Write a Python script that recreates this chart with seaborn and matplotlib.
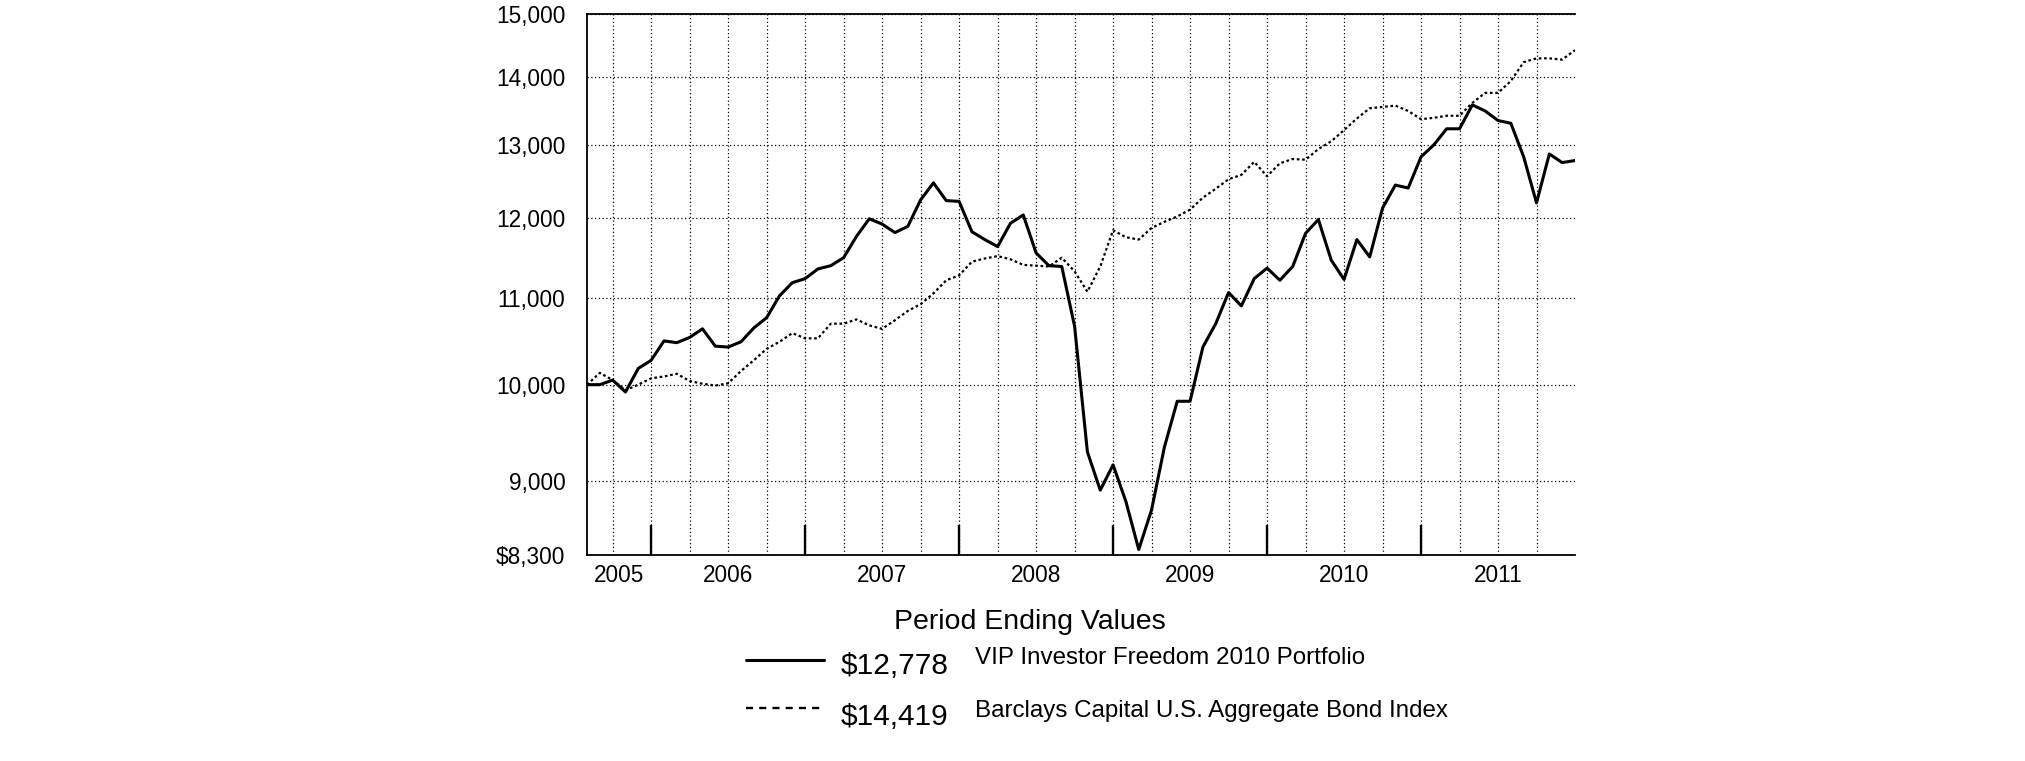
import pandas as pd
import seaborn as sns
import matplotlib.pyplot as plt
from matplotlib.lines import Line2D
from matplotlib.ticker import NullLocator

# Hypothetical $10,000 investment, month-end values (Jul 2005 .. Dec 2011)
vip_values = [10000, 10000, 10050, 9920, 10180, 10270,
              10490, 10470, 10530, 10630, 10430, 10420, 10480, 10640, 10760, 11020, 11180, 11230,
              11350, 11390, 11490, 11760, 11990, 11920, 11810, 11890, 12240, 12470, 12230, 12220,
              11820, 11720, 11630, 11930, 12040, 11550, 11390, 11380, 10660, 9290, 8910, 9160,
              8800, 8350, 8720, 9340, 9820, 9820, 10420, 10690, 11060, 10900, 11230, 11360,
              11210, 11380, 11800, 11980, 11460, 11220, 11720, 11500, 12130, 12440, 12400, 12830,
              13000, 13230, 13230, 13580, 13490, 13350, 13310, 12830, 12200, 12870, 12750, 12778]
bond_values = [10000, 10130, 10050, 9940, 10000, 10070,
               10090, 10120, 10040, 10010, 9990, 10015, 10150, 10270, 10400, 10480, 10580, 10520,
               10520, 10690, 10690, 10740, 10670, 10630, 10730, 10840, 10920, 11050, 11210, 11270,
               11440, 11480, 11510, 11470, 11400, 11390, 11380, 11490, 11320, 11070, 11380, 11840,
               11750, 11720, 11870, 11950, 12020, 12110, 12270, 12390, 12520, 12580, 12760, 12560,
               12740, 12800, 12790, 12940, 13050, 13210, 13380, 13530, 13550, 13570, 13490, 13370,
               13390, 13420, 13420, 13610, 13760, 13760, 13940, 14230, 14290, 14290, 14270, 14419]
month_index = list(range(len(vip_values)))

series_names = ["VIP Investor Freedom 2010 Portfolio",
                "Barclays Capital U.S. Aggregate Bond Index"]
years = ["2005", "2006", "2007", "2008", "2009", "2010", "2011"]
year_ends = [5, 17, 29, 41, 53, 65]          # month index of each December
y_ticks = [8300, 9000, 10000, 11000, 12000, 13000, 14000, 15000]

sns.set_style("white")
plt.rcParams['font.family'] = ['Liberation Sans', 'DejaVu Sans']
plt.rcParams['text.color'] = 'black'

W, H = 2025, 761
fig = plt.figure(figsize=(W / 100, H / 100), dpi=100)
ax = fig.add_axes([587 / W, (H - 555) / H, (1575 - 587) / W, (555 - 14) / H])

# the two series
sns.lineplot(x=month_index, y=vip_values, color='black', linewidth=2.2, ax=ax)
sns.lineplot(x=month_index, y=bond_values, color='black', linewidth=1.6,
             linestyle=(0, (1.2, 1.2)), ax=ax)

ax.set_yscale('log')
ax.set_ylim(y_ticks[0], y_ticks[-1])
ax.set_xlim(month_index[0], month_index[-1])

# y axis: dollar ticks
ax.set_yticks(y_ticks)
ax.set_yticklabels(["$" + f"{y_ticks[0]:,}"] + [f"{v:,}" for v in y_ticks[1:]])
ax.yaxis.set_minor_locator(NullLocator())
ax.tick_params(axis='y', which='major', direction='out', length=10, width=1.6,
               pad=5.5, labelsize=16.3, color='black', labelcolor='black')

# x axis: quarterly gridlines, year labels centred in each year
ax.xaxis.remove_overlapping_locs = False
ax.set_xticks(list(range(2, month_index[-1], 3)))
ax.set_xticklabels([])
bounds = [month_index[0]] + year_ends + [month_index[-1]]
ax.set_xticks([(a + b) / 2 for a, b in zip(bounds[:-1], bounds[1:])], minor=True)
ax.set_xticklabels(years, minor=True)
ax.tick_params(axis='x', which='both', length=0, pad=6.5, labelsize=16.3, labelcolor='black')

ax.grid(True, which='major', axis='both', color='black', linestyle=(0, (1, 2)), linewidth=0.9)

# long year-end ticks rising from the bottom
ax.vlines(year_ends, 0, 30 / 541, transform=ax.get_xaxis_transform(), color='black', lw=1.7)

for side in ['left', 'top', 'bottom']:
    ax.spines[side].set_color('black')
    ax.spines[side].set_linewidth(1.3)
ax.spines['right'].set_visible(False)
ax.set_xlabel('')
ax.set_ylabel('')

# legend block below the plot
fig.text(1030 / W, 1 - 629 / H, "Period Ending Values", fontsize=20.5, ha='center',
         va='baseline', color='black')
rows = [(660, 674, 664, vip_values[-1], series_names[0], '-', 2.2),
        (708, 725, 717, bond_values[-1], series_names[1], (0, (3.0, 2.6)), 1.7)]
for ly, vy, ny, val, name, ls, lw in rows:
    fig.add_artist(Line2D([746 / W, 824 / W], [1 - ly / H] * 2, color='black', lw=lw, linestyle=ls))
    fig.text(841 / W, 1 - vy / H, f"${val:,}", fontsize=21.5, va='baseline', color='black')
    fig.text(975 / W, 1 - ny / H, name, fontsize=17.4, va='baseline', color='black')

fig.savefig("out.png", dpi=100)
